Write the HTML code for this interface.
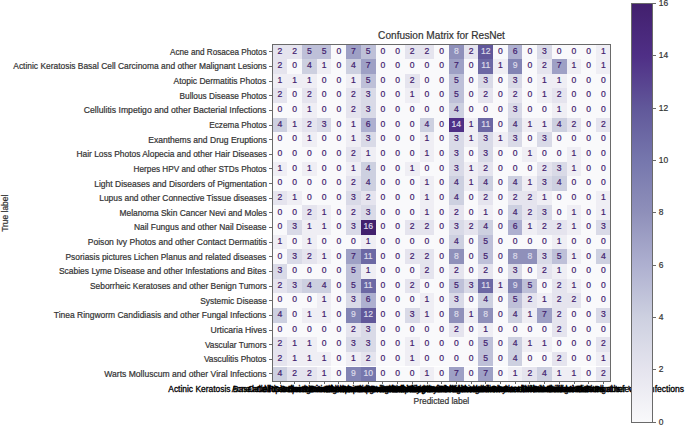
<!DOCTYPE html><html><head><meta charset="utf-8"><style>
html,body{margin:0;padding:0;background:#fff;}
body{width:685px;height:426px;position:relative;overflow:hidden;font-family:"Liberation Sans",sans-serif;color:#333;-webkit-text-stroke:0.2px;}
.a{position:absolute;white-space:nowrap;}
.yl{position:absolute;right:418.40px;font-size:8.44px;line-height:8.44px;white-space:nowrap;}
.xl{position:absolute;width:400px;text-align:center;font-size:8.44px;line-height:8.44px;white-space:nowrap;}
.c{position:absolute;width:14.696px;height:14.639px;}
.n{position:absolute;width:14.696px;text-align:center;font-size:8.6px;line-height:8.6px;}
.tk{position:absolute;background:#6a6a6a;}
</style></head><body>

<div class="a" style="left:341.5px;width:200px;text-align:center;top:31.0px;font-size:10.1px;line-height:10.1px;">Confusion Matrix for ResNet</div>
<div class="c" style="left:272.65px;top:44.45px;background:#e5e4ee"></div><div class="c" style="left:287.35px;top:44.45px;background:#e5e4ee"></div><div class="c" style="left:302.04px;top:44.45px;background:#bec0d8"></div><div class="c" style="left:316.74px;top:44.45px;background:#bec0d8"></div><div class="c" style="left:331.43px;top:44.45px;background:#f9f9fb"></div><div class="c" style="left:346.13px;top:44.45px;background:#9ea0c5"></div><div class="c" style="left:360.82px;top:44.45px;background:#bec0d8"></div><div class="c" style="left:375.52px;top:44.45px;background:#f9f9fb"></div><div class="c" style="left:390.22px;top:44.45px;background:#f9f9fb"></div><div class="c" style="left:404.91px;top:44.45px;background:#e5e4ee"></div><div class="c" style="left:419.61px;top:44.45px;background:#e5e4ee"></div><div class="c" style="left:434.30px;top:44.45px;background:#f9f9fb"></div><div class="c" style="left:449.00px;top:44.45px;background:#8f90ba"></div><div class="c" style="left:463.69px;top:44.45px;background:#e5e4ee"></div><div class="c" style="left:478.39px;top:44.45px;background:#61589a"></div><div class="c" style="left:493.08px;top:44.45px;background:#f9f9fb"></div><div class="c" style="left:507.78px;top:44.45px;background:#aeb0d0"></div><div class="c" style="left:522.48px;top:44.45px;background:#f9f9fb"></div><div class="c" style="left:537.17px;top:44.45px;background:#d9dae7"></div><div class="c" style="left:551.87px;top:44.45px;background:#f9f9fb"></div><div class="c" style="left:566.56px;top:44.45px;background:#f9f9fb"></div><div class="c" style="left:581.26px;top:44.45px;background:#f9f9fb"></div><div class="c" style="left:595.95px;top:44.45px;background:#efeef4"></div><div class="c" style="left:272.65px;top:59.09px;background:#e5e4ee"></div><div class="c" style="left:287.35px;top:59.09px;background:#f9f9fb"></div><div class="c" style="left:302.04px;top:59.09px;background:#cdd0e0"></div><div class="c" style="left:316.74px;top:59.09px;background:#efeef4"></div><div class="c" style="left:331.43px;top:59.09px;background:#f9f9fb"></div><div class="c" style="left:346.13px;top:59.09px;background:#cdd0e0"></div><div class="c" style="left:360.82px;top:59.09px;background:#9ea0c5"></div><div class="c" style="left:375.52px;top:59.09px;background:#f9f9fb"></div><div class="c" style="left:390.22px;top:59.09px;background:#f9f9fb"></div><div class="c" style="left:404.91px;top:59.09px;background:#f9f9fb"></div><div class="c" style="left:419.61px;top:59.09px;background:#f9f9fb"></div><div class="c" style="left:434.30px;top:59.09px;background:#f9f9fb"></div><div class="c" style="left:449.00px;top:59.09px;background:#9ea0c5"></div><div class="c" style="left:463.69px;top:59.09px;background:#f9f9fb"></div><div class="c" style="left:478.39px;top:59.09px;background:#6c68a4"></div><div class="c" style="left:493.08px;top:59.09px;background:#efeef4"></div><div class="c" style="left:507.78px;top:59.09px;background:#8284b4"></div><div class="c" style="left:522.48px;top:59.09px;background:#f9f9fb"></div><div class="c" style="left:537.17px;top:59.09px;background:#e5e4ee"></div><div class="c" style="left:551.87px;top:59.09px;background:#9ea0c5"></div><div class="c" style="left:566.56px;top:59.09px;background:#efeef4"></div><div class="c" style="left:581.26px;top:59.09px;background:#f9f9fb"></div><div class="c" style="left:595.95px;top:59.09px;background:#efeef4"></div><div class="c" style="left:272.65px;top:73.73px;background:#efeef4"></div><div class="c" style="left:287.35px;top:73.73px;background:#efeef4"></div><div class="c" style="left:302.04px;top:73.73px;background:#efeef4"></div><div class="c" style="left:316.74px;top:73.73px;background:#f9f9fb"></div><div class="c" style="left:331.43px;top:73.73px;background:#f9f9fb"></div><div class="c" style="left:346.13px;top:73.73px;background:#efeef4"></div><div class="c" style="left:360.82px;top:73.73px;background:#bec0d8"></div><div class="c" style="left:375.52px;top:73.73px;background:#f9f9fb"></div><div class="c" style="left:390.22px;top:73.73px;background:#f9f9fb"></div><div class="c" style="left:404.91px;top:73.73px;background:#e5e4ee"></div><div class="c" style="left:419.61px;top:73.73px;background:#f9f9fb"></div><div class="c" style="left:434.30px;top:73.73px;background:#f9f9fb"></div><div class="c" style="left:449.00px;top:73.73px;background:#bec0d8"></div><div class="c" style="left:463.69px;top:73.73px;background:#f9f9fb"></div><div class="c" style="left:478.39px;top:73.73px;background:#d9dae7"></div><div class="c" style="left:493.08px;top:73.73px;background:#f9f9fb"></div><div class="c" style="left:507.78px;top:73.73px;background:#d9dae7"></div><div class="c" style="left:522.48px;top:73.73px;background:#f9f9fb"></div><div class="c" style="left:537.17px;top:73.73px;background:#efeef4"></div><div class="c" style="left:551.87px;top:73.73px;background:#efeef4"></div><div class="c" style="left:566.56px;top:73.73px;background:#f9f9fb"></div><div class="c" style="left:581.26px;top:73.73px;background:#f9f9fb"></div><div class="c" style="left:595.95px;top:73.73px;background:#f9f9fb"></div><div class="c" style="left:272.65px;top:88.37px;background:#e5e4ee"></div><div class="c" style="left:287.35px;top:88.37px;background:#f9f9fb"></div><div class="c" style="left:302.04px;top:88.37px;background:#e5e4ee"></div><div class="c" style="left:316.74px;top:88.37px;background:#f9f9fb"></div><div class="c" style="left:331.43px;top:88.37px;background:#f9f9fb"></div><div class="c" style="left:346.13px;top:88.37px;background:#e5e4ee"></div><div class="c" style="left:360.82px;top:88.37px;background:#d9dae7"></div><div class="c" style="left:375.52px;top:88.37px;background:#f9f9fb"></div><div class="c" style="left:390.22px;top:88.37px;background:#f9f9fb"></div><div class="c" style="left:404.91px;top:88.37px;background:#efeef4"></div><div class="c" style="left:419.61px;top:88.37px;background:#f9f9fb"></div><div class="c" style="left:434.30px;top:88.37px;background:#f9f9fb"></div><div class="c" style="left:449.00px;top:88.37px;background:#bec0d8"></div><div class="c" style="left:463.69px;top:88.37px;background:#f9f9fb"></div><div class="c" style="left:478.39px;top:88.37px;background:#e5e4ee"></div><div class="c" style="left:493.08px;top:88.37px;background:#f9f9fb"></div><div class="c" style="left:507.78px;top:88.37px;background:#e5e4ee"></div><div class="c" style="left:522.48px;top:88.37px;background:#f9f9fb"></div><div class="c" style="left:537.17px;top:88.37px;background:#efeef4"></div><div class="c" style="left:551.87px;top:88.37px;background:#e5e4ee"></div><div class="c" style="left:566.56px;top:88.37px;background:#f9f9fb"></div><div class="c" style="left:581.26px;top:88.37px;background:#f9f9fb"></div><div class="c" style="left:595.95px;top:88.37px;background:#f9f9fb"></div><div class="c" style="left:272.65px;top:103.01px;background:#f9f9fb"></div><div class="c" style="left:287.35px;top:103.01px;background:#f9f9fb"></div><div class="c" style="left:302.04px;top:103.01px;background:#efeef4"></div><div class="c" style="left:316.74px;top:103.01px;background:#f9f9fb"></div><div class="c" style="left:331.43px;top:103.01px;background:#f9f9fb"></div><div class="c" style="left:346.13px;top:103.01px;background:#e5e4ee"></div><div class="c" style="left:360.82px;top:103.01px;background:#d9dae7"></div><div class="c" style="left:375.52px;top:103.01px;background:#f9f9fb"></div><div class="c" style="left:390.22px;top:103.01px;background:#f9f9fb"></div><div class="c" style="left:404.91px;top:103.01px;background:#f9f9fb"></div><div class="c" style="left:419.61px;top:103.01px;background:#f9f9fb"></div><div class="c" style="left:434.30px;top:103.01px;background:#f9f9fb"></div><div class="c" style="left:449.00px;top:103.01px;background:#cdd0e0"></div><div class="c" style="left:463.69px;top:103.01px;background:#f9f9fb"></div><div class="c" style="left:478.39px;top:103.01px;background:#f9f9fb"></div><div class="c" style="left:493.08px;top:103.01px;background:#f9f9fb"></div><div class="c" style="left:507.78px;top:103.01px;background:#d9dae7"></div><div class="c" style="left:522.48px;top:103.01px;background:#f9f9fb"></div><div class="c" style="left:537.17px;top:103.01px;background:#f9f9fb"></div><div class="c" style="left:551.87px;top:103.01px;background:#efeef4"></div><div class="c" style="left:566.56px;top:103.01px;background:#f9f9fb"></div><div class="c" style="left:581.26px;top:103.01px;background:#f9f9fb"></div><div class="c" style="left:595.95px;top:103.01px;background:#f9f9fb"></div><div class="c" style="left:272.65px;top:117.65px;background:#cdd0e0"></div><div class="c" style="left:287.35px;top:117.65px;background:#efeef4"></div><div class="c" style="left:302.04px;top:117.65px;background:#e5e4ee"></div><div class="c" style="left:316.74px;top:117.65px;background:#d9dae7"></div><div class="c" style="left:331.43px;top:117.65px;background:#f9f9fb"></div><div class="c" style="left:346.13px;top:117.65px;background:#efeef4"></div><div class="c" style="left:360.82px;top:117.65px;background:#aeb0d0"></div><div class="c" style="left:375.52px;top:117.65px;background:#f9f9fb"></div><div class="c" style="left:390.22px;top:117.65px;background:#f9f9fb"></div><div class="c" style="left:404.91px;top:117.65px;background:#f9f9fb"></div><div class="c" style="left:419.61px;top:117.65px;background:#cdd0e0"></div><div class="c" style="left:434.30px;top:117.65px;background:#f9f9fb"></div><div class="c" style="left:449.00px;top:117.65px;background:#4f2f86"></div><div class="c" style="left:463.69px;top:117.65px;background:#efeef4"></div><div class="c" style="left:478.39px;top:117.65px;background:#6c68a4"></div><div class="c" style="left:493.08px;top:117.65px;background:#f9f9fb"></div><div class="c" style="left:507.78px;top:117.65px;background:#cdd0e0"></div><div class="c" style="left:522.48px;top:117.65px;background:#efeef4"></div><div class="c" style="left:537.17px;top:117.65px;background:#efeef4"></div><div class="c" style="left:551.87px;top:117.65px;background:#cdd0e0"></div><div class="c" style="left:566.56px;top:117.65px;background:#e5e4ee"></div><div class="c" style="left:581.26px;top:117.65px;background:#f9f9fb"></div><div class="c" style="left:595.95px;top:117.65px;background:#e5e4ee"></div><div class="c" style="left:272.65px;top:132.28px;background:#f9f9fb"></div><div class="c" style="left:287.35px;top:132.28px;background:#f9f9fb"></div><div class="c" style="left:302.04px;top:132.28px;background:#efeef4"></div><div class="c" style="left:316.74px;top:132.28px;background:#f9f9fb"></div><div class="c" style="left:331.43px;top:132.28px;background:#f9f9fb"></div><div class="c" style="left:346.13px;top:132.28px;background:#efeef4"></div><div class="c" style="left:360.82px;top:132.28px;background:#d9dae7"></div><div class="c" style="left:375.52px;top:132.28px;background:#f9f9fb"></div><div class="c" style="left:390.22px;top:132.28px;background:#f9f9fb"></div><div class="c" style="left:404.91px;top:132.28px;background:#f9f9fb"></div><div class="c" style="left:419.61px;top:132.28px;background:#efeef4"></div><div class="c" style="left:434.30px;top:132.28px;background:#f9f9fb"></div><div class="c" style="left:449.00px;top:132.28px;background:#d9dae7"></div><div class="c" style="left:463.69px;top:132.28px;background:#efeef4"></div><div class="c" style="left:478.39px;top:132.28px;background:#d9dae7"></div><div class="c" style="left:493.08px;top:132.28px;background:#efeef4"></div><div class="c" style="left:507.78px;top:132.28px;background:#d9dae7"></div><div class="c" style="left:522.48px;top:132.28px;background:#f9f9fb"></div><div class="c" style="left:537.17px;top:132.28px;background:#d9dae7"></div><div class="c" style="left:551.87px;top:132.28px;background:#f9f9fb"></div><div class="c" style="left:566.56px;top:132.28px;background:#f9f9fb"></div><div class="c" style="left:581.26px;top:132.28px;background:#f9f9fb"></div><div class="c" style="left:595.95px;top:132.28px;background:#f9f9fb"></div><div class="c" style="left:272.65px;top:146.92px;background:#f9f9fb"></div><div class="c" style="left:287.35px;top:146.92px;background:#f9f9fb"></div><div class="c" style="left:302.04px;top:146.92px;background:#f9f9fb"></div><div class="c" style="left:316.74px;top:146.92px;background:#f9f9fb"></div><div class="c" style="left:331.43px;top:146.92px;background:#f9f9fb"></div><div class="c" style="left:346.13px;top:146.92px;background:#e5e4ee"></div><div class="c" style="left:360.82px;top:146.92px;background:#efeef4"></div><div class="c" style="left:375.52px;top:146.92px;background:#f9f9fb"></div><div class="c" style="left:390.22px;top:146.92px;background:#f9f9fb"></div><div class="c" style="left:404.91px;top:146.92px;background:#f9f9fb"></div><div class="c" style="left:419.61px;top:146.92px;background:#efeef4"></div><div class="c" style="left:434.30px;top:146.92px;background:#f9f9fb"></div><div class="c" style="left:449.00px;top:146.92px;background:#d9dae7"></div><div class="c" style="left:463.69px;top:146.92px;background:#f9f9fb"></div><div class="c" style="left:478.39px;top:146.92px;background:#d9dae7"></div><div class="c" style="left:493.08px;top:146.92px;background:#f9f9fb"></div><div class="c" style="left:507.78px;top:146.92px;background:#f9f9fb"></div><div class="c" style="left:522.48px;top:146.92px;background:#efeef4"></div><div class="c" style="left:537.17px;top:146.92px;background:#f9f9fb"></div><div class="c" style="left:551.87px;top:146.92px;background:#f9f9fb"></div><div class="c" style="left:566.56px;top:146.92px;background:#efeef4"></div><div class="c" style="left:581.26px;top:146.92px;background:#f9f9fb"></div><div class="c" style="left:595.95px;top:146.92px;background:#f9f9fb"></div><div class="c" style="left:272.65px;top:161.56px;background:#efeef4"></div><div class="c" style="left:287.35px;top:161.56px;background:#f9f9fb"></div><div class="c" style="left:302.04px;top:161.56px;background:#efeef4"></div><div class="c" style="left:316.74px;top:161.56px;background:#f9f9fb"></div><div class="c" style="left:331.43px;top:161.56px;background:#f9f9fb"></div><div class="c" style="left:346.13px;top:161.56px;background:#efeef4"></div><div class="c" style="left:360.82px;top:161.56px;background:#cdd0e0"></div><div class="c" style="left:375.52px;top:161.56px;background:#f9f9fb"></div><div class="c" style="left:390.22px;top:161.56px;background:#f9f9fb"></div><div class="c" style="left:404.91px;top:161.56px;background:#efeef4"></div><div class="c" style="left:419.61px;top:161.56px;background:#f9f9fb"></div><div class="c" style="left:434.30px;top:161.56px;background:#f9f9fb"></div><div class="c" style="left:449.00px;top:161.56px;background:#d9dae7"></div><div class="c" style="left:463.69px;top:161.56px;background:#efeef4"></div><div class="c" style="left:478.39px;top:161.56px;background:#e5e4ee"></div><div class="c" style="left:493.08px;top:161.56px;background:#f9f9fb"></div><div class="c" style="left:507.78px;top:161.56px;background:#f9f9fb"></div><div class="c" style="left:522.48px;top:161.56px;background:#f9f9fb"></div><div class="c" style="left:537.17px;top:161.56px;background:#e5e4ee"></div><div class="c" style="left:551.87px;top:161.56px;background:#d9dae7"></div><div class="c" style="left:566.56px;top:161.56px;background:#efeef4"></div><div class="c" style="left:581.26px;top:161.56px;background:#f9f9fb"></div><div class="c" style="left:595.95px;top:161.56px;background:#f9f9fb"></div><div class="c" style="left:272.65px;top:176.20px;background:#f9f9fb"></div><div class="c" style="left:287.35px;top:176.20px;background:#f9f9fb"></div><div class="c" style="left:302.04px;top:176.20px;background:#f9f9fb"></div><div class="c" style="left:316.74px;top:176.20px;background:#f9f9fb"></div><div class="c" style="left:331.43px;top:176.20px;background:#f9f9fb"></div><div class="c" style="left:346.13px;top:176.20px;background:#e5e4ee"></div><div class="c" style="left:360.82px;top:176.20px;background:#cdd0e0"></div><div class="c" style="left:375.52px;top:176.20px;background:#f9f9fb"></div><div class="c" style="left:390.22px;top:176.20px;background:#f9f9fb"></div><div class="c" style="left:404.91px;top:176.20px;background:#f9f9fb"></div><div class="c" style="left:419.61px;top:176.20px;background:#efeef4"></div><div class="c" style="left:434.30px;top:176.20px;background:#f9f9fb"></div><div class="c" style="left:449.00px;top:176.20px;background:#cdd0e0"></div><div class="c" style="left:463.69px;top:176.20px;background:#efeef4"></div><div class="c" style="left:478.39px;top:176.20px;background:#cdd0e0"></div><div class="c" style="left:493.08px;top:176.20px;background:#f9f9fb"></div><div class="c" style="left:507.78px;top:176.20px;background:#cdd0e0"></div><div class="c" style="left:522.48px;top:176.20px;background:#efeef4"></div><div class="c" style="left:537.17px;top:176.20px;background:#d9dae7"></div><div class="c" style="left:551.87px;top:176.20px;background:#cdd0e0"></div><div class="c" style="left:566.56px;top:176.20px;background:#f9f9fb"></div><div class="c" style="left:581.26px;top:176.20px;background:#f9f9fb"></div><div class="c" style="left:595.95px;top:176.20px;background:#f9f9fb"></div><div class="c" style="left:272.65px;top:190.84px;background:#e5e4ee"></div><div class="c" style="left:287.35px;top:190.84px;background:#efeef4"></div><div class="c" style="left:302.04px;top:190.84px;background:#f9f9fb"></div><div class="c" style="left:316.74px;top:190.84px;background:#f9f9fb"></div><div class="c" style="left:331.43px;top:190.84px;background:#f9f9fb"></div><div class="c" style="left:346.13px;top:190.84px;background:#d9dae7"></div><div class="c" style="left:360.82px;top:190.84px;background:#e5e4ee"></div><div class="c" style="left:375.52px;top:190.84px;background:#f9f9fb"></div><div class="c" style="left:390.22px;top:190.84px;background:#f9f9fb"></div><div class="c" style="left:404.91px;top:190.84px;background:#f9f9fb"></div><div class="c" style="left:419.61px;top:190.84px;background:#efeef4"></div><div class="c" style="left:434.30px;top:190.84px;background:#f9f9fb"></div><div class="c" style="left:449.00px;top:190.84px;background:#cdd0e0"></div><div class="c" style="left:463.69px;top:190.84px;background:#f9f9fb"></div><div class="c" style="left:478.39px;top:190.84px;background:#e5e4ee"></div><div class="c" style="left:493.08px;top:190.84px;background:#f9f9fb"></div><div class="c" style="left:507.78px;top:190.84px;background:#e5e4ee"></div><div class="c" style="left:522.48px;top:190.84px;background:#e5e4ee"></div><div class="c" style="left:537.17px;top:190.84px;background:#efeef4"></div><div class="c" style="left:551.87px;top:190.84px;background:#f9f9fb"></div><div class="c" style="left:566.56px;top:190.84px;background:#f9f9fb"></div><div class="c" style="left:581.26px;top:190.84px;background:#f9f9fb"></div><div class="c" style="left:595.95px;top:190.84px;background:#efeef4"></div><div class="c" style="left:272.65px;top:205.48px;background:#f9f9fb"></div><div class="c" style="left:287.35px;top:205.48px;background:#f9f9fb"></div><div class="c" style="left:302.04px;top:205.48px;background:#e5e4ee"></div><div class="c" style="left:316.74px;top:205.48px;background:#efeef4"></div><div class="c" style="left:331.43px;top:205.48px;background:#f9f9fb"></div><div class="c" style="left:346.13px;top:205.48px;background:#e5e4ee"></div><div class="c" style="left:360.82px;top:205.48px;background:#d9dae7"></div><div class="c" style="left:375.52px;top:205.48px;background:#f9f9fb"></div><div class="c" style="left:390.22px;top:205.48px;background:#f9f9fb"></div><div class="c" style="left:404.91px;top:205.48px;background:#f9f9fb"></div><div class="c" style="left:419.61px;top:205.48px;background:#efeef4"></div><div class="c" style="left:434.30px;top:205.48px;background:#f9f9fb"></div><div class="c" style="left:449.00px;top:205.48px;background:#e5e4ee"></div><div class="c" style="left:463.69px;top:205.48px;background:#f9f9fb"></div><div class="c" style="left:478.39px;top:205.48px;background:#efeef4"></div><div class="c" style="left:493.08px;top:205.48px;background:#f9f9fb"></div><div class="c" style="left:507.78px;top:205.48px;background:#cdd0e0"></div><div class="c" style="left:522.48px;top:205.48px;background:#e5e4ee"></div><div class="c" style="left:537.17px;top:205.48px;background:#d9dae7"></div><div class="c" style="left:551.87px;top:205.48px;background:#f9f9fb"></div><div class="c" style="left:566.56px;top:205.48px;background:#efeef4"></div><div class="c" style="left:581.26px;top:205.48px;background:#f9f9fb"></div><div class="c" style="left:595.95px;top:205.48px;background:#efeef4"></div><div class="c" style="left:272.65px;top:220.12px;background:#f9f9fb"></div><div class="c" style="left:287.35px;top:220.12px;background:#d9dae7"></div><div class="c" style="left:302.04px;top:220.12px;background:#efeef4"></div><div class="c" style="left:316.74px;top:220.12px;background:#efeef4"></div><div class="c" style="left:331.43px;top:220.12px;background:#f9f9fb"></div><div class="c" style="left:346.13px;top:220.12px;background:#d9dae7"></div><div class="c" style="left:360.82px;top:220.12px;background:#42206e"></div><div class="c" style="left:375.52px;top:220.12px;background:#f9f9fb"></div><div class="c" style="left:390.22px;top:220.12px;background:#f9f9fb"></div><div class="c" style="left:404.91px;top:220.12px;background:#e5e4ee"></div><div class="c" style="left:419.61px;top:220.12px;background:#e5e4ee"></div><div class="c" style="left:434.30px;top:220.12px;background:#f9f9fb"></div><div class="c" style="left:449.00px;top:220.12px;background:#d9dae7"></div><div class="c" style="left:463.69px;top:220.12px;background:#e5e4ee"></div><div class="c" style="left:478.39px;top:220.12px;background:#cdd0e0"></div><div class="c" style="left:493.08px;top:220.12px;background:#f9f9fb"></div><div class="c" style="left:507.78px;top:220.12px;background:#aeb0d0"></div><div class="c" style="left:522.48px;top:220.12px;background:#efeef4"></div><div class="c" style="left:537.17px;top:220.12px;background:#e5e4ee"></div><div class="c" style="left:551.87px;top:220.12px;background:#e5e4ee"></div><div class="c" style="left:566.56px;top:220.12px;background:#efeef4"></div><div class="c" style="left:581.26px;top:220.12px;background:#f9f9fb"></div><div class="c" style="left:595.95px;top:220.12px;background:#d9dae7"></div><div class="c" style="left:272.65px;top:234.76px;background:#efeef4"></div><div class="c" style="left:287.35px;top:234.76px;background:#f9f9fb"></div><div class="c" style="left:302.04px;top:234.76px;background:#efeef4"></div><div class="c" style="left:316.74px;top:234.76px;background:#f9f9fb"></div><div class="c" style="left:331.43px;top:234.76px;background:#f9f9fb"></div><div class="c" style="left:346.13px;top:234.76px;background:#f9f9fb"></div><div class="c" style="left:360.82px;top:234.76px;background:#efeef4"></div><div class="c" style="left:375.52px;top:234.76px;background:#f9f9fb"></div><div class="c" style="left:390.22px;top:234.76px;background:#f9f9fb"></div><div class="c" style="left:404.91px;top:234.76px;background:#f9f9fb"></div><div class="c" style="left:419.61px;top:234.76px;background:#f9f9fb"></div><div class="c" style="left:434.30px;top:234.76px;background:#f9f9fb"></div><div class="c" style="left:449.00px;top:234.76px;background:#cdd0e0"></div><div class="c" style="left:463.69px;top:234.76px;background:#f9f9fb"></div><div class="c" style="left:478.39px;top:234.76px;background:#bec0d8"></div><div class="c" style="left:493.08px;top:234.76px;background:#f9f9fb"></div><div class="c" style="left:507.78px;top:234.76px;background:#f9f9fb"></div><div class="c" style="left:522.48px;top:234.76px;background:#f9f9fb"></div><div class="c" style="left:537.17px;top:234.76px;background:#f9f9fb"></div><div class="c" style="left:551.87px;top:234.76px;background:#efeef4"></div><div class="c" style="left:566.56px;top:234.76px;background:#f9f9fb"></div><div class="c" style="left:581.26px;top:234.76px;background:#f9f9fb"></div><div class="c" style="left:595.95px;top:234.76px;background:#f9f9fb"></div><div class="c" style="left:272.65px;top:249.40px;background:#f9f9fb"></div><div class="c" style="left:287.35px;top:249.40px;background:#d9dae7"></div><div class="c" style="left:302.04px;top:249.40px;background:#e5e4ee"></div><div class="c" style="left:316.74px;top:249.40px;background:#efeef4"></div><div class="c" style="left:331.43px;top:249.40px;background:#f9f9fb"></div><div class="c" style="left:346.13px;top:249.40px;background:#9ea0c5"></div><div class="c" style="left:360.82px;top:249.40px;background:#6c68a4"></div><div class="c" style="left:375.52px;top:249.40px;background:#f9f9fb"></div><div class="c" style="left:390.22px;top:249.40px;background:#f9f9fb"></div><div class="c" style="left:404.91px;top:249.40px;background:#e5e4ee"></div><div class="c" style="left:419.61px;top:249.40px;background:#e5e4ee"></div><div class="c" style="left:434.30px;top:249.40px;background:#f9f9fb"></div><div class="c" style="left:449.00px;top:249.40px;background:#8f90ba"></div><div class="c" style="left:463.69px;top:249.40px;background:#f9f9fb"></div><div class="c" style="left:478.39px;top:249.40px;background:#bec0d8"></div><div class="c" style="left:493.08px;top:249.40px;background:#f9f9fb"></div><div class="c" style="left:507.78px;top:249.40px;background:#8f90ba"></div><div class="c" style="left:522.48px;top:249.40px;background:#8f90ba"></div><div class="c" style="left:537.17px;top:249.40px;background:#d9dae7"></div><div class="c" style="left:551.87px;top:249.40px;background:#bec0d8"></div><div class="c" style="left:566.56px;top:249.40px;background:#efeef4"></div><div class="c" style="left:581.26px;top:249.40px;background:#f9f9fb"></div><div class="c" style="left:595.95px;top:249.40px;background:#cdd0e0"></div><div class="c" style="left:272.65px;top:264.04px;background:#d9dae7"></div><div class="c" style="left:287.35px;top:264.04px;background:#f9f9fb"></div><div class="c" style="left:302.04px;top:264.04px;background:#f9f9fb"></div><div class="c" style="left:316.74px;top:264.04px;background:#f9f9fb"></div><div class="c" style="left:331.43px;top:264.04px;background:#f9f9fb"></div><div class="c" style="left:346.13px;top:264.04px;background:#bec0d8"></div><div class="c" style="left:360.82px;top:264.04px;background:#efeef4"></div><div class="c" style="left:375.52px;top:264.04px;background:#f9f9fb"></div><div class="c" style="left:390.22px;top:264.04px;background:#f9f9fb"></div><div class="c" style="left:404.91px;top:264.04px;background:#f9f9fb"></div><div class="c" style="left:419.61px;top:264.04px;background:#e5e4ee"></div><div class="c" style="left:434.30px;top:264.04px;background:#f9f9fb"></div><div class="c" style="left:449.00px;top:264.04px;background:#e5e4ee"></div><div class="c" style="left:463.69px;top:264.04px;background:#f9f9fb"></div><div class="c" style="left:478.39px;top:264.04px;background:#e5e4ee"></div><div class="c" style="left:493.08px;top:264.04px;background:#f9f9fb"></div><div class="c" style="left:507.78px;top:264.04px;background:#d9dae7"></div><div class="c" style="left:522.48px;top:264.04px;background:#f9f9fb"></div><div class="c" style="left:537.17px;top:264.04px;background:#e5e4ee"></div><div class="c" style="left:551.87px;top:264.04px;background:#efeef4"></div><div class="c" style="left:566.56px;top:264.04px;background:#f9f9fb"></div><div class="c" style="left:581.26px;top:264.04px;background:#f9f9fb"></div><div class="c" style="left:595.95px;top:264.04px;background:#f9f9fb"></div><div class="c" style="left:272.65px;top:278.68px;background:#e5e4ee"></div><div class="c" style="left:287.35px;top:278.68px;background:#d9dae7"></div><div class="c" style="left:302.04px;top:278.68px;background:#cdd0e0"></div><div class="c" style="left:316.74px;top:278.68px;background:#cdd0e0"></div><div class="c" style="left:331.43px;top:278.68px;background:#f9f9fb"></div><div class="c" style="left:346.13px;top:278.68px;background:#bec0d8"></div><div class="c" style="left:360.82px;top:278.68px;background:#6c68a4"></div><div class="c" style="left:375.52px;top:278.68px;background:#f9f9fb"></div><div class="c" style="left:390.22px;top:278.68px;background:#f9f9fb"></div><div class="c" style="left:404.91px;top:278.68px;background:#e5e4ee"></div><div class="c" style="left:419.61px;top:278.68px;background:#f9f9fb"></div><div class="c" style="left:434.30px;top:278.68px;background:#f9f9fb"></div><div class="c" style="left:449.00px;top:278.68px;background:#bec0d8"></div><div class="c" style="left:463.69px;top:278.68px;background:#d9dae7"></div><div class="c" style="left:478.39px;top:278.68px;background:#6c68a4"></div><div class="c" style="left:493.08px;top:278.68px;background:#efeef4"></div><div class="c" style="left:507.78px;top:278.68px;background:#8284b4"></div><div class="c" style="left:522.48px;top:278.68px;background:#bec0d8"></div><div class="c" style="left:537.17px;top:278.68px;background:#f9f9fb"></div><div class="c" style="left:551.87px;top:278.68px;background:#e5e4ee"></div><div class="c" style="left:566.56px;top:278.68px;background:#efeef4"></div><div class="c" style="left:581.26px;top:278.68px;background:#f9f9fb"></div><div class="c" style="left:595.95px;top:278.68px;background:#f9f9fb"></div><div class="c" style="left:272.65px;top:293.32px;background:#f9f9fb"></div><div class="c" style="left:287.35px;top:293.32px;background:#f9f9fb"></div><div class="c" style="left:302.04px;top:293.32px;background:#f9f9fb"></div><div class="c" style="left:316.74px;top:293.32px;background:#efeef4"></div><div class="c" style="left:331.43px;top:293.32px;background:#f9f9fb"></div><div class="c" style="left:346.13px;top:293.32px;background:#d9dae7"></div><div class="c" style="left:360.82px;top:293.32px;background:#aeb0d0"></div><div class="c" style="left:375.52px;top:293.32px;background:#f9f9fb"></div><div class="c" style="left:390.22px;top:293.32px;background:#f9f9fb"></div><div class="c" style="left:404.91px;top:293.32px;background:#f9f9fb"></div><div class="c" style="left:419.61px;top:293.32px;background:#efeef4"></div><div class="c" style="left:434.30px;top:293.32px;background:#f9f9fb"></div><div class="c" style="left:449.00px;top:293.32px;background:#d9dae7"></div><div class="c" style="left:463.69px;top:293.32px;background:#f9f9fb"></div><div class="c" style="left:478.39px;top:293.32px;background:#cdd0e0"></div><div class="c" style="left:493.08px;top:293.32px;background:#f9f9fb"></div><div class="c" style="left:507.78px;top:293.32px;background:#bec0d8"></div><div class="c" style="left:522.48px;top:293.32px;background:#e5e4ee"></div><div class="c" style="left:537.17px;top:293.32px;background:#efeef4"></div><div class="c" style="left:551.87px;top:293.32px;background:#e5e4ee"></div><div class="c" style="left:566.56px;top:293.32px;background:#e5e4ee"></div><div class="c" style="left:581.26px;top:293.32px;background:#f9f9fb"></div><div class="c" style="left:595.95px;top:293.32px;background:#f9f9fb"></div><div class="c" style="left:272.65px;top:307.95px;background:#cdd0e0"></div><div class="c" style="left:287.35px;top:307.95px;background:#f9f9fb"></div><div class="c" style="left:302.04px;top:307.95px;background:#efeef4"></div><div class="c" style="left:316.74px;top:307.95px;background:#efeef4"></div><div class="c" style="left:331.43px;top:307.95px;background:#f9f9fb"></div><div class="c" style="left:346.13px;top:307.95px;background:#8284b4"></div><div class="c" style="left:360.82px;top:307.95px;background:#61589a"></div><div class="c" style="left:375.52px;top:307.95px;background:#f9f9fb"></div><div class="c" style="left:390.22px;top:307.95px;background:#f9f9fb"></div><div class="c" style="left:404.91px;top:307.95px;background:#d9dae7"></div><div class="c" style="left:419.61px;top:307.95px;background:#efeef4"></div><div class="c" style="left:434.30px;top:307.95px;background:#f9f9fb"></div><div class="c" style="left:449.00px;top:307.95px;background:#8f90ba"></div><div class="c" style="left:463.69px;top:307.95px;background:#efeef4"></div><div class="c" style="left:478.39px;top:307.95px;background:#8f90ba"></div><div class="c" style="left:493.08px;top:307.95px;background:#f9f9fb"></div><div class="c" style="left:507.78px;top:307.95px;background:#cdd0e0"></div><div class="c" style="left:522.48px;top:307.95px;background:#efeef4"></div><div class="c" style="left:537.17px;top:307.95px;background:#9ea0c5"></div><div class="c" style="left:551.87px;top:307.95px;background:#e5e4ee"></div><div class="c" style="left:566.56px;top:307.95px;background:#f9f9fb"></div><div class="c" style="left:581.26px;top:307.95px;background:#f9f9fb"></div><div class="c" style="left:595.95px;top:307.95px;background:#d9dae7"></div><div class="c" style="left:272.65px;top:322.59px;background:#f9f9fb"></div><div class="c" style="left:287.35px;top:322.59px;background:#f9f9fb"></div><div class="c" style="left:302.04px;top:322.59px;background:#f9f9fb"></div><div class="c" style="left:316.74px;top:322.59px;background:#f9f9fb"></div><div class="c" style="left:331.43px;top:322.59px;background:#f9f9fb"></div><div class="c" style="left:346.13px;top:322.59px;background:#e5e4ee"></div><div class="c" style="left:360.82px;top:322.59px;background:#d9dae7"></div><div class="c" style="left:375.52px;top:322.59px;background:#f9f9fb"></div><div class="c" style="left:390.22px;top:322.59px;background:#f9f9fb"></div><div class="c" style="left:404.91px;top:322.59px;background:#f9f9fb"></div><div class="c" style="left:419.61px;top:322.59px;background:#f9f9fb"></div><div class="c" style="left:434.30px;top:322.59px;background:#f9f9fb"></div><div class="c" style="left:449.00px;top:322.59px;background:#e5e4ee"></div><div class="c" style="left:463.69px;top:322.59px;background:#f9f9fb"></div><div class="c" style="left:478.39px;top:322.59px;background:#efeef4"></div><div class="c" style="left:493.08px;top:322.59px;background:#f9f9fb"></div><div class="c" style="left:507.78px;top:322.59px;background:#f9f9fb"></div><div class="c" style="left:522.48px;top:322.59px;background:#f9f9fb"></div><div class="c" style="left:537.17px;top:322.59px;background:#f9f9fb"></div><div class="c" style="left:551.87px;top:322.59px;background:#e5e4ee"></div><div class="c" style="left:566.56px;top:322.59px;background:#f9f9fb"></div><div class="c" style="left:581.26px;top:322.59px;background:#f9f9fb"></div><div class="c" style="left:595.95px;top:322.59px;background:#f9f9fb"></div><div class="c" style="left:272.65px;top:337.23px;background:#e5e4ee"></div><div class="c" style="left:287.35px;top:337.23px;background:#efeef4"></div><div class="c" style="left:302.04px;top:337.23px;background:#efeef4"></div><div class="c" style="left:316.74px;top:337.23px;background:#f9f9fb"></div><div class="c" style="left:331.43px;top:337.23px;background:#f9f9fb"></div><div class="c" style="left:346.13px;top:337.23px;background:#d9dae7"></div><div class="c" style="left:360.82px;top:337.23px;background:#d9dae7"></div><div class="c" style="left:375.52px;top:337.23px;background:#f9f9fb"></div><div class="c" style="left:390.22px;top:337.23px;background:#f9f9fb"></div><div class="c" style="left:404.91px;top:337.23px;background:#efeef4"></div><div class="c" style="left:419.61px;top:337.23px;background:#f9f9fb"></div><div class="c" style="left:434.30px;top:337.23px;background:#f9f9fb"></div><div class="c" style="left:449.00px;top:337.23px;background:#f9f9fb"></div><div class="c" style="left:463.69px;top:337.23px;background:#f9f9fb"></div><div class="c" style="left:478.39px;top:337.23px;background:#bec0d8"></div><div class="c" style="left:493.08px;top:337.23px;background:#f9f9fb"></div><div class="c" style="left:507.78px;top:337.23px;background:#cdd0e0"></div><div class="c" style="left:522.48px;top:337.23px;background:#efeef4"></div><div class="c" style="left:537.17px;top:337.23px;background:#efeef4"></div><div class="c" style="left:551.87px;top:337.23px;background:#f9f9fb"></div><div class="c" style="left:566.56px;top:337.23px;background:#f9f9fb"></div><div class="c" style="left:581.26px;top:337.23px;background:#f9f9fb"></div><div class="c" style="left:595.95px;top:337.23px;background:#e5e4ee"></div><div class="c" style="left:272.65px;top:351.87px;background:#e5e4ee"></div><div class="c" style="left:287.35px;top:351.87px;background:#efeef4"></div><div class="c" style="left:302.04px;top:351.87px;background:#efeef4"></div><div class="c" style="left:316.74px;top:351.87px;background:#efeef4"></div><div class="c" style="left:331.43px;top:351.87px;background:#f9f9fb"></div><div class="c" style="left:346.13px;top:351.87px;background:#efeef4"></div><div class="c" style="left:360.82px;top:351.87px;background:#e5e4ee"></div><div class="c" style="left:375.52px;top:351.87px;background:#f9f9fb"></div><div class="c" style="left:390.22px;top:351.87px;background:#f9f9fb"></div><div class="c" style="left:404.91px;top:351.87px;background:#efeef4"></div><div class="c" style="left:419.61px;top:351.87px;background:#f9f9fb"></div><div class="c" style="left:434.30px;top:351.87px;background:#f9f9fb"></div><div class="c" style="left:449.00px;top:351.87px;background:#f9f9fb"></div><div class="c" style="left:463.69px;top:351.87px;background:#f9f9fb"></div><div class="c" style="left:478.39px;top:351.87px;background:#bec0d8"></div><div class="c" style="left:493.08px;top:351.87px;background:#f9f9fb"></div><div class="c" style="left:507.78px;top:351.87px;background:#cdd0e0"></div><div class="c" style="left:522.48px;top:351.87px;background:#f9f9fb"></div><div class="c" style="left:537.17px;top:351.87px;background:#f9f9fb"></div><div class="c" style="left:551.87px;top:351.87px;background:#e5e4ee"></div><div class="c" style="left:566.56px;top:351.87px;background:#f9f9fb"></div><div class="c" style="left:581.26px;top:351.87px;background:#f9f9fb"></div><div class="c" style="left:595.95px;top:351.87px;background:#efeef4"></div><div class="c" style="left:272.65px;top:366.51px;background:#cdd0e0"></div><div class="c" style="left:287.35px;top:366.51px;background:#e5e4ee"></div><div class="c" style="left:302.04px;top:366.51px;background:#e5e4ee"></div><div class="c" style="left:316.74px;top:366.51px;background:#efeef4"></div><div class="c" style="left:331.43px;top:366.51px;background:#f9f9fb"></div><div class="c" style="left:346.13px;top:366.51px;background:#8284b4"></div><div class="c" style="left:360.82px;top:366.51px;background:#7677ad"></div><div class="c" style="left:375.52px;top:366.51px;background:#f9f9fb"></div><div class="c" style="left:390.22px;top:366.51px;background:#f9f9fb"></div><div class="c" style="left:404.91px;top:366.51px;background:#f9f9fb"></div><div class="c" style="left:419.61px;top:366.51px;background:#efeef4"></div><div class="c" style="left:434.30px;top:366.51px;background:#f9f9fb"></div><div class="c" style="left:449.00px;top:366.51px;background:#9ea0c5"></div><div class="c" style="left:463.69px;top:366.51px;background:#f9f9fb"></div><div class="c" style="left:478.39px;top:366.51px;background:#9ea0c5"></div><div class="c" style="left:493.08px;top:366.51px;background:#f9f9fb"></div><div class="c" style="left:507.78px;top:366.51px;background:#efeef4"></div><div class="c" style="left:522.48px;top:366.51px;background:#e5e4ee"></div><div class="c" style="left:537.17px;top:366.51px;background:#cdd0e0"></div><div class="c" style="left:551.87px;top:366.51px;background:#efeef4"></div><div class="c" style="left:566.56px;top:366.51px;background:#efeef4"></div><div class="c" style="left:581.26px;top:366.51px;background:#f9f9fb"></div><div class="c" style="left:595.95px;top:366.51px;background:#e5e4ee"></div>
<div class="n" style="left:272.65px;top:46.57px;color:#42206e">2</div><div class="n" style="left:287.35px;top:46.57px;color:#42206e">2</div><div class="n" style="left:302.04px;top:46.57px;color:#42206e">5</div><div class="n" style="left:316.74px;top:46.57px;color:#42206e">5</div><div class="n" style="left:331.43px;top:46.57px;color:#42206e">0</div><div class="n" style="left:346.13px;top:46.57px;color:#42206e">7</div><div class="n" style="left:360.82px;top:46.57px;color:#42206e">5</div><div class="n" style="left:375.52px;top:46.57px;color:#42206e">0</div><div class="n" style="left:390.22px;top:46.57px;color:#42206e">0</div><div class="n" style="left:404.91px;top:46.57px;color:#42206e">2</div><div class="n" style="left:419.61px;top:46.57px;color:#42206e">2</div><div class="n" style="left:434.30px;top:46.57px;color:#42206e">0</div><div class="n" style="left:449.00px;top:46.57px;color:#dcdbe9">8</div><div class="n" style="left:463.69px;top:46.57px;color:#42206e">2</div><div class="n" style="left:478.39px;top:46.57px;color:#dcdbe9">12</div><div class="n" style="left:493.08px;top:46.57px;color:#42206e">0</div><div class="n" style="left:507.78px;top:46.57px;color:#42206e">6</div><div class="n" style="left:522.48px;top:46.57px;color:#42206e">0</div><div class="n" style="left:537.17px;top:46.57px;color:#42206e">3</div><div class="n" style="left:551.87px;top:46.57px;color:#42206e">0</div><div class="n" style="left:566.56px;top:46.57px;color:#42206e">0</div><div class="n" style="left:581.26px;top:46.57px;color:#42206e">0</div><div class="n" style="left:595.95px;top:46.57px;color:#42206e">1</div><div class="n" style="left:272.65px;top:61.21px;color:#42206e">2</div><div class="n" style="left:287.35px;top:61.21px;color:#42206e">0</div><div class="n" style="left:302.04px;top:61.21px;color:#42206e">4</div><div class="n" style="left:316.74px;top:61.21px;color:#42206e">1</div><div class="n" style="left:331.43px;top:61.21px;color:#42206e">0</div><div class="n" style="left:346.13px;top:61.21px;color:#42206e">4</div><div class="n" style="left:360.82px;top:61.21px;color:#42206e">7</div><div class="n" style="left:375.52px;top:61.21px;color:#42206e">0</div><div class="n" style="left:390.22px;top:61.21px;color:#42206e">0</div><div class="n" style="left:404.91px;top:61.21px;color:#42206e">0</div><div class="n" style="left:419.61px;top:61.21px;color:#42206e">0</div><div class="n" style="left:434.30px;top:61.21px;color:#42206e">0</div><div class="n" style="left:449.00px;top:61.21px;color:#42206e">7</div><div class="n" style="left:463.69px;top:61.21px;color:#42206e">0</div><div class="n" style="left:478.39px;top:61.21px;color:#dcdbe9">11</div><div class="n" style="left:493.08px;top:61.21px;color:#42206e">1</div><div class="n" style="left:507.78px;top:61.21px;color:#dcdbe9">9</div><div class="n" style="left:522.48px;top:61.21px;color:#42206e">0</div><div class="n" style="left:537.17px;top:61.21px;color:#42206e">2</div><div class="n" style="left:551.87px;top:61.21px;color:#42206e">7</div><div class="n" style="left:566.56px;top:61.21px;color:#42206e">1</div><div class="n" style="left:581.26px;top:61.21px;color:#42206e">0</div><div class="n" style="left:595.95px;top:61.21px;color:#42206e">1</div><div class="n" style="left:272.65px;top:75.85px;color:#42206e">1</div><div class="n" style="left:287.35px;top:75.85px;color:#42206e">1</div><div class="n" style="left:302.04px;top:75.85px;color:#42206e">1</div><div class="n" style="left:316.74px;top:75.85px;color:#42206e">0</div><div class="n" style="left:331.43px;top:75.85px;color:#42206e">0</div><div class="n" style="left:346.13px;top:75.85px;color:#42206e">1</div><div class="n" style="left:360.82px;top:75.85px;color:#42206e">5</div><div class="n" style="left:375.52px;top:75.85px;color:#42206e">0</div><div class="n" style="left:390.22px;top:75.85px;color:#42206e">0</div><div class="n" style="left:404.91px;top:75.85px;color:#42206e">2</div><div class="n" style="left:419.61px;top:75.85px;color:#42206e">0</div><div class="n" style="left:434.30px;top:75.85px;color:#42206e">0</div><div class="n" style="left:449.00px;top:75.85px;color:#42206e">5</div><div class="n" style="left:463.69px;top:75.85px;color:#42206e">0</div><div class="n" style="left:478.39px;top:75.85px;color:#42206e">3</div><div class="n" style="left:493.08px;top:75.85px;color:#42206e">0</div><div class="n" style="left:507.78px;top:75.85px;color:#42206e">3</div><div class="n" style="left:522.48px;top:75.85px;color:#42206e">0</div><div class="n" style="left:537.17px;top:75.85px;color:#42206e">1</div><div class="n" style="left:551.87px;top:75.85px;color:#42206e">1</div><div class="n" style="left:566.56px;top:75.85px;color:#42206e">0</div><div class="n" style="left:581.26px;top:75.85px;color:#42206e">0</div><div class="n" style="left:595.95px;top:75.85px;color:#42206e">0</div><div class="n" style="left:272.65px;top:90.49px;color:#42206e">2</div><div class="n" style="left:287.35px;top:90.49px;color:#42206e">0</div><div class="n" style="left:302.04px;top:90.49px;color:#42206e">2</div><div class="n" style="left:316.74px;top:90.49px;color:#42206e">0</div><div class="n" style="left:331.43px;top:90.49px;color:#42206e">0</div><div class="n" style="left:346.13px;top:90.49px;color:#42206e">2</div><div class="n" style="left:360.82px;top:90.49px;color:#42206e">3</div><div class="n" style="left:375.52px;top:90.49px;color:#42206e">0</div><div class="n" style="left:390.22px;top:90.49px;color:#42206e">0</div><div class="n" style="left:404.91px;top:90.49px;color:#42206e">1</div><div class="n" style="left:419.61px;top:90.49px;color:#42206e">0</div><div class="n" style="left:434.30px;top:90.49px;color:#42206e">0</div><div class="n" style="left:449.00px;top:90.49px;color:#42206e">5</div><div class="n" style="left:463.69px;top:90.49px;color:#42206e">0</div><div class="n" style="left:478.39px;top:90.49px;color:#42206e">2</div><div class="n" style="left:493.08px;top:90.49px;color:#42206e">0</div><div class="n" style="left:507.78px;top:90.49px;color:#42206e">2</div><div class="n" style="left:522.48px;top:90.49px;color:#42206e">0</div><div class="n" style="left:537.17px;top:90.49px;color:#42206e">1</div><div class="n" style="left:551.87px;top:90.49px;color:#42206e">2</div><div class="n" style="left:566.56px;top:90.49px;color:#42206e">0</div><div class="n" style="left:581.26px;top:90.49px;color:#42206e">0</div><div class="n" style="left:595.95px;top:90.49px;color:#42206e">0</div><div class="n" style="left:272.65px;top:105.13px;color:#42206e">0</div><div class="n" style="left:287.35px;top:105.13px;color:#42206e">0</div><div class="n" style="left:302.04px;top:105.13px;color:#42206e">1</div><div class="n" style="left:316.74px;top:105.13px;color:#42206e">0</div><div class="n" style="left:331.43px;top:105.13px;color:#42206e">0</div><div class="n" style="left:346.13px;top:105.13px;color:#42206e">2</div><div class="n" style="left:360.82px;top:105.13px;color:#42206e">3</div><div class="n" style="left:375.52px;top:105.13px;color:#42206e">0</div><div class="n" style="left:390.22px;top:105.13px;color:#42206e">0</div><div class="n" style="left:404.91px;top:105.13px;color:#42206e">0</div><div class="n" style="left:419.61px;top:105.13px;color:#42206e">0</div><div class="n" style="left:434.30px;top:105.13px;color:#42206e">0</div><div class="n" style="left:449.00px;top:105.13px;color:#42206e">4</div><div class="n" style="left:463.69px;top:105.13px;color:#42206e">0</div><div class="n" style="left:478.39px;top:105.13px;color:#42206e">0</div><div class="n" style="left:493.08px;top:105.13px;color:#42206e">0</div><div class="n" style="left:507.78px;top:105.13px;color:#42206e">3</div><div class="n" style="left:522.48px;top:105.13px;color:#42206e">0</div><div class="n" style="left:537.17px;top:105.13px;color:#42206e">0</div><div class="n" style="left:551.87px;top:105.13px;color:#42206e">1</div><div class="n" style="left:566.56px;top:105.13px;color:#42206e">0</div><div class="n" style="left:581.26px;top:105.13px;color:#42206e">0</div><div class="n" style="left:595.95px;top:105.13px;color:#42206e">0</div><div class="n" style="left:272.65px;top:119.77px;color:#42206e">4</div><div class="n" style="left:287.35px;top:119.77px;color:#42206e">1</div><div class="n" style="left:302.04px;top:119.77px;color:#42206e">2</div><div class="n" style="left:316.74px;top:119.77px;color:#42206e">3</div><div class="n" style="left:331.43px;top:119.77px;color:#42206e">0</div><div class="n" style="left:346.13px;top:119.77px;color:#42206e">1</div><div class="n" style="left:360.82px;top:119.77px;color:#42206e">6</div><div class="n" style="left:375.52px;top:119.77px;color:#42206e">0</div><div class="n" style="left:390.22px;top:119.77px;color:#42206e">0</div><div class="n" style="left:404.91px;top:119.77px;color:#42206e">0</div><div class="n" style="left:419.61px;top:119.77px;color:#42206e">4</div><div class="n" style="left:434.30px;top:119.77px;color:#42206e">0</div><div class="n" style="left:449.00px;top:119.77px;color:#dcdbe9">14</div><div class="n" style="left:463.69px;top:119.77px;color:#42206e">1</div><div class="n" style="left:478.39px;top:119.77px;color:#dcdbe9">11</div><div class="n" style="left:493.08px;top:119.77px;color:#42206e">0</div><div class="n" style="left:507.78px;top:119.77px;color:#42206e">4</div><div class="n" style="left:522.48px;top:119.77px;color:#42206e">1</div><div class="n" style="left:537.17px;top:119.77px;color:#42206e">1</div><div class="n" style="left:551.87px;top:119.77px;color:#42206e">4</div><div class="n" style="left:566.56px;top:119.77px;color:#42206e">2</div><div class="n" style="left:581.26px;top:119.77px;color:#42206e">0</div><div class="n" style="left:595.95px;top:119.77px;color:#42206e">2</div><div class="n" style="left:272.65px;top:134.40px;color:#42206e">0</div><div class="n" style="left:287.35px;top:134.40px;color:#42206e">0</div><div class="n" style="left:302.04px;top:134.40px;color:#42206e">1</div><div class="n" style="left:316.74px;top:134.40px;color:#42206e">0</div><div class="n" style="left:331.43px;top:134.40px;color:#42206e">0</div><div class="n" style="left:346.13px;top:134.40px;color:#42206e">1</div><div class="n" style="left:360.82px;top:134.40px;color:#42206e">3</div><div class="n" style="left:375.52px;top:134.40px;color:#42206e">0</div><div class="n" style="left:390.22px;top:134.40px;color:#42206e">0</div><div class="n" style="left:404.91px;top:134.40px;color:#42206e">0</div><div class="n" style="left:419.61px;top:134.40px;color:#42206e">1</div><div class="n" style="left:434.30px;top:134.40px;color:#42206e">0</div><div class="n" style="left:449.00px;top:134.40px;color:#42206e">3</div><div class="n" style="left:463.69px;top:134.40px;color:#42206e">1</div><div class="n" style="left:478.39px;top:134.40px;color:#42206e">3</div><div class="n" style="left:493.08px;top:134.40px;color:#42206e">1</div><div class="n" style="left:507.78px;top:134.40px;color:#42206e">3</div><div class="n" style="left:522.48px;top:134.40px;color:#42206e">0</div><div class="n" style="left:537.17px;top:134.40px;color:#42206e">3</div><div class="n" style="left:551.87px;top:134.40px;color:#42206e">0</div><div class="n" style="left:566.56px;top:134.40px;color:#42206e">0</div><div class="n" style="left:581.26px;top:134.40px;color:#42206e">0</div><div class="n" style="left:595.95px;top:134.40px;color:#42206e">0</div><div class="n" style="left:272.65px;top:149.04px;color:#42206e">0</div><div class="n" style="left:287.35px;top:149.04px;color:#42206e">0</div><div class="n" style="left:302.04px;top:149.04px;color:#42206e">0</div><div class="n" style="left:316.74px;top:149.04px;color:#42206e">0</div><div class="n" style="left:331.43px;top:149.04px;color:#42206e">0</div><div class="n" style="left:346.13px;top:149.04px;color:#42206e">2</div><div class="n" style="left:360.82px;top:149.04px;color:#42206e">1</div><div class="n" style="left:375.52px;top:149.04px;color:#42206e">0</div><div class="n" style="left:390.22px;top:149.04px;color:#42206e">0</div><div class="n" style="left:404.91px;top:149.04px;color:#42206e">0</div><div class="n" style="left:419.61px;top:149.04px;color:#42206e">1</div><div class="n" style="left:434.30px;top:149.04px;color:#42206e">0</div><div class="n" style="left:449.00px;top:149.04px;color:#42206e">3</div><div class="n" style="left:463.69px;top:149.04px;color:#42206e">0</div><div class="n" style="left:478.39px;top:149.04px;color:#42206e">3</div><div class="n" style="left:493.08px;top:149.04px;color:#42206e">0</div><div class="n" style="left:507.78px;top:149.04px;color:#42206e">0</div><div class="n" style="left:522.48px;top:149.04px;color:#42206e">1</div><div class="n" style="left:537.17px;top:149.04px;color:#42206e">0</div><div class="n" style="left:551.87px;top:149.04px;color:#42206e">0</div><div class="n" style="left:566.56px;top:149.04px;color:#42206e">1</div><div class="n" style="left:581.26px;top:149.04px;color:#42206e">0</div><div class="n" style="left:595.95px;top:149.04px;color:#42206e">0</div><div class="n" style="left:272.65px;top:163.68px;color:#42206e">1</div><div class="n" style="left:287.35px;top:163.68px;color:#42206e">0</div><div class="n" style="left:302.04px;top:163.68px;color:#42206e">1</div><div class="n" style="left:316.74px;top:163.68px;color:#42206e">0</div><div class="n" style="left:331.43px;top:163.68px;color:#42206e">0</div><div class="n" style="left:346.13px;top:163.68px;color:#42206e">1</div><div class="n" style="left:360.82px;top:163.68px;color:#42206e">4</div><div class="n" style="left:375.52px;top:163.68px;color:#42206e">0</div><div class="n" style="left:390.22px;top:163.68px;color:#42206e">0</div><div class="n" style="left:404.91px;top:163.68px;color:#42206e">1</div><div class="n" style="left:419.61px;top:163.68px;color:#42206e">0</div><div class="n" style="left:434.30px;top:163.68px;color:#42206e">0</div><div class="n" style="left:449.00px;top:163.68px;color:#42206e">3</div><div class="n" style="left:463.69px;top:163.68px;color:#42206e">1</div><div class="n" style="left:478.39px;top:163.68px;color:#42206e">2</div><div class="n" style="left:493.08px;top:163.68px;color:#42206e">0</div><div class="n" style="left:507.78px;top:163.68px;color:#42206e">0</div><div class="n" style="left:522.48px;top:163.68px;color:#42206e">0</div><div class="n" style="left:537.17px;top:163.68px;color:#42206e">2</div><div class="n" style="left:551.87px;top:163.68px;color:#42206e">3</div><div class="n" style="left:566.56px;top:163.68px;color:#42206e">1</div><div class="n" style="left:581.26px;top:163.68px;color:#42206e">0</div><div class="n" style="left:595.95px;top:163.68px;color:#42206e">0</div><div class="n" style="left:272.65px;top:178.32px;color:#42206e">0</div><div class="n" style="left:287.35px;top:178.32px;color:#42206e">0</div><div class="n" style="left:302.04px;top:178.32px;color:#42206e">0</div><div class="n" style="left:316.74px;top:178.32px;color:#42206e">0</div><div class="n" style="left:331.43px;top:178.32px;color:#42206e">0</div><div class="n" style="left:346.13px;top:178.32px;color:#42206e">2</div><div class="n" style="left:360.82px;top:178.32px;color:#42206e">4</div><div class="n" style="left:375.52px;top:178.32px;color:#42206e">0</div><div class="n" style="left:390.22px;top:178.32px;color:#42206e">0</div><div class="n" style="left:404.91px;top:178.32px;color:#42206e">0</div><div class="n" style="left:419.61px;top:178.32px;color:#42206e">1</div><div class="n" style="left:434.30px;top:178.32px;color:#42206e">0</div><div class="n" style="left:449.00px;top:178.32px;color:#42206e">4</div><div class="n" style="left:463.69px;top:178.32px;color:#42206e">1</div><div class="n" style="left:478.39px;top:178.32px;color:#42206e">4</div><div class="n" style="left:493.08px;top:178.32px;color:#42206e">0</div><div class="n" style="left:507.78px;top:178.32px;color:#42206e">4</div><div class="n" style="left:522.48px;top:178.32px;color:#42206e">1</div><div class="n" style="left:537.17px;top:178.32px;color:#42206e">3</div><div class="n" style="left:551.87px;top:178.32px;color:#42206e">4</div><div class="n" style="left:566.56px;top:178.32px;color:#42206e">0</div><div class="n" style="left:581.26px;top:178.32px;color:#42206e">0</div><div class="n" style="left:595.95px;top:178.32px;color:#42206e">0</div><div class="n" style="left:272.65px;top:192.96px;color:#42206e">2</div><div class="n" style="left:287.35px;top:192.96px;color:#42206e">1</div><div class="n" style="left:302.04px;top:192.96px;color:#42206e">0</div><div class="n" style="left:316.74px;top:192.96px;color:#42206e">0</div><div class="n" style="left:331.43px;top:192.96px;color:#42206e">0</div><div class="n" style="left:346.13px;top:192.96px;color:#42206e">3</div><div class="n" style="left:360.82px;top:192.96px;color:#42206e">2</div><div class="n" style="left:375.52px;top:192.96px;color:#42206e">0</div><div class="n" style="left:390.22px;top:192.96px;color:#42206e">0</div><div class="n" style="left:404.91px;top:192.96px;color:#42206e">0</div><div class="n" style="left:419.61px;top:192.96px;color:#42206e">1</div><div class="n" style="left:434.30px;top:192.96px;color:#42206e">0</div><div class="n" style="left:449.00px;top:192.96px;color:#42206e">4</div><div class="n" style="left:463.69px;top:192.96px;color:#42206e">0</div><div class="n" style="left:478.39px;top:192.96px;color:#42206e">2</div><div class="n" style="left:493.08px;top:192.96px;color:#42206e">0</div><div class="n" style="left:507.78px;top:192.96px;color:#42206e">2</div><div class="n" style="left:522.48px;top:192.96px;color:#42206e">2</div><div class="n" style="left:537.17px;top:192.96px;color:#42206e">1</div><div class="n" style="left:551.87px;top:192.96px;color:#42206e">0</div><div class="n" style="left:566.56px;top:192.96px;color:#42206e">0</div><div class="n" style="left:581.26px;top:192.96px;color:#42206e">0</div><div class="n" style="left:595.95px;top:192.96px;color:#42206e">1</div><div class="n" style="left:272.65px;top:207.60px;color:#42206e">0</div><div class="n" style="left:287.35px;top:207.60px;color:#42206e">0</div><div class="n" style="left:302.04px;top:207.60px;color:#42206e">2</div><div class="n" style="left:316.74px;top:207.60px;color:#42206e">1</div><div class="n" style="left:331.43px;top:207.60px;color:#42206e">0</div><div class="n" style="left:346.13px;top:207.60px;color:#42206e">2</div><div class="n" style="left:360.82px;top:207.60px;color:#42206e">3</div><div class="n" style="left:375.52px;top:207.60px;color:#42206e">0</div><div class="n" style="left:390.22px;top:207.60px;color:#42206e">0</div><div class="n" style="left:404.91px;top:207.60px;color:#42206e">0</div><div class="n" style="left:419.61px;top:207.60px;color:#42206e">1</div><div class="n" style="left:434.30px;top:207.60px;color:#42206e">0</div><div class="n" style="left:449.00px;top:207.60px;color:#42206e">2</div><div class="n" style="left:463.69px;top:207.60px;color:#42206e">0</div><div class="n" style="left:478.39px;top:207.60px;color:#42206e">1</div><div class="n" style="left:493.08px;top:207.60px;color:#42206e">0</div><div class="n" style="left:507.78px;top:207.60px;color:#42206e">4</div><div class="n" style="left:522.48px;top:207.60px;color:#42206e">2</div><div class="n" style="left:537.17px;top:207.60px;color:#42206e">3</div><div class="n" style="left:551.87px;top:207.60px;color:#42206e">0</div><div class="n" style="left:566.56px;top:207.60px;color:#42206e">1</div><div class="n" style="left:581.26px;top:207.60px;color:#42206e">0</div><div class="n" style="left:595.95px;top:207.60px;color:#42206e">1</div><div class="n" style="left:272.65px;top:222.24px;color:#42206e">0</div><div class="n" style="left:287.35px;top:222.24px;color:#42206e">3</div><div class="n" style="left:302.04px;top:222.24px;color:#42206e">1</div><div class="n" style="left:316.74px;top:222.24px;color:#42206e">1</div><div class="n" style="left:331.43px;top:222.24px;color:#42206e">0</div><div class="n" style="left:346.13px;top:222.24px;color:#42206e">3</div><div class="n" style="left:360.82px;top:222.24px;color:#dcdbe9">16</div><div class="n" style="left:375.52px;top:222.24px;color:#42206e">0</div><div class="n" style="left:390.22px;top:222.24px;color:#42206e">0</div><div class="n" style="left:404.91px;top:222.24px;color:#42206e">2</div><div class="n" style="left:419.61px;top:222.24px;color:#42206e">2</div><div class="n" style="left:434.30px;top:222.24px;color:#42206e">0</div><div class="n" style="left:449.00px;top:222.24px;color:#42206e">3</div><div class="n" style="left:463.69px;top:222.24px;color:#42206e">2</div><div class="n" style="left:478.39px;top:222.24px;color:#42206e">4</div><div class="n" style="left:493.08px;top:222.24px;color:#42206e">0</div><div class="n" style="left:507.78px;top:222.24px;color:#42206e">6</div><div class="n" style="left:522.48px;top:222.24px;color:#42206e">1</div><div class="n" style="left:537.17px;top:222.24px;color:#42206e">2</div><div class="n" style="left:551.87px;top:222.24px;color:#42206e">2</div><div class="n" style="left:566.56px;top:222.24px;color:#42206e">1</div><div class="n" style="left:581.26px;top:222.24px;color:#42206e">0</div><div class="n" style="left:595.95px;top:222.24px;color:#42206e">3</div><div class="n" style="left:272.65px;top:236.88px;color:#42206e">1</div><div class="n" style="left:287.35px;top:236.88px;color:#42206e">0</div><div class="n" style="left:302.04px;top:236.88px;color:#42206e">1</div><div class="n" style="left:316.74px;top:236.88px;color:#42206e">0</div><div class="n" style="left:331.43px;top:236.88px;color:#42206e">0</div><div class="n" style="left:346.13px;top:236.88px;color:#42206e">0</div><div class="n" style="left:360.82px;top:236.88px;color:#42206e">1</div><div class="n" style="left:375.52px;top:236.88px;color:#42206e">0</div><div class="n" style="left:390.22px;top:236.88px;color:#42206e">0</div><div class="n" style="left:404.91px;top:236.88px;color:#42206e">0</div><div class="n" style="left:419.61px;top:236.88px;color:#42206e">0</div><div class="n" style="left:434.30px;top:236.88px;color:#42206e">0</div><div class="n" style="left:449.00px;top:236.88px;color:#42206e">4</div><div class="n" style="left:463.69px;top:236.88px;color:#42206e">0</div><div class="n" style="left:478.39px;top:236.88px;color:#42206e">5</div><div class="n" style="left:493.08px;top:236.88px;color:#42206e">0</div><div class="n" style="left:507.78px;top:236.88px;color:#42206e">0</div><div class="n" style="left:522.48px;top:236.88px;color:#42206e">0</div><div class="n" style="left:537.17px;top:236.88px;color:#42206e">0</div><div class="n" style="left:551.87px;top:236.88px;color:#42206e">1</div><div class="n" style="left:566.56px;top:236.88px;color:#42206e">0</div><div class="n" style="left:581.26px;top:236.88px;color:#42206e">0</div><div class="n" style="left:595.95px;top:236.88px;color:#42206e">0</div><div class="n" style="left:272.65px;top:251.52px;color:#42206e">0</div><div class="n" style="left:287.35px;top:251.52px;color:#42206e">3</div><div class="n" style="left:302.04px;top:251.52px;color:#42206e">2</div><div class="n" style="left:316.74px;top:251.52px;color:#42206e">1</div><div class="n" style="left:331.43px;top:251.52px;color:#42206e">0</div><div class="n" style="left:346.13px;top:251.52px;color:#42206e">7</div><div class="n" style="left:360.82px;top:251.52px;color:#dcdbe9">11</div><div class="n" style="left:375.52px;top:251.52px;color:#42206e">0</div><div class="n" style="left:390.22px;top:251.52px;color:#42206e">0</div><div class="n" style="left:404.91px;top:251.52px;color:#42206e">2</div><div class="n" style="left:419.61px;top:251.52px;color:#42206e">2</div><div class="n" style="left:434.30px;top:251.52px;color:#42206e">0</div><div class="n" style="left:449.00px;top:251.52px;color:#dcdbe9">8</div><div class="n" style="left:463.69px;top:251.52px;color:#42206e">0</div><div class="n" style="left:478.39px;top:251.52px;color:#42206e">5</div><div class="n" style="left:493.08px;top:251.52px;color:#42206e">0</div><div class="n" style="left:507.78px;top:251.52px;color:#dcdbe9">8</div><div class="n" style="left:522.48px;top:251.52px;color:#dcdbe9">8</div><div class="n" style="left:537.17px;top:251.52px;color:#42206e">3</div><div class="n" style="left:551.87px;top:251.52px;color:#42206e">5</div><div class="n" style="left:566.56px;top:251.52px;color:#42206e">1</div><div class="n" style="left:581.26px;top:251.52px;color:#42206e">0</div><div class="n" style="left:595.95px;top:251.52px;color:#42206e">4</div><div class="n" style="left:272.65px;top:266.16px;color:#42206e">3</div><div class="n" style="left:287.35px;top:266.16px;color:#42206e">0</div><div class="n" style="left:302.04px;top:266.16px;color:#42206e">0</div><div class="n" style="left:316.74px;top:266.16px;color:#42206e">0</div><div class="n" style="left:331.43px;top:266.16px;color:#42206e">0</div><div class="n" style="left:346.13px;top:266.16px;color:#42206e">5</div><div class="n" style="left:360.82px;top:266.16px;color:#42206e">1</div><div class="n" style="left:375.52px;top:266.16px;color:#42206e">0</div><div class="n" style="left:390.22px;top:266.16px;color:#42206e">0</div><div class="n" style="left:404.91px;top:266.16px;color:#42206e">0</div><div class="n" style="left:419.61px;top:266.16px;color:#42206e">2</div><div class="n" style="left:434.30px;top:266.16px;color:#42206e">0</div><div class="n" style="left:449.00px;top:266.16px;color:#42206e">2</div><div class="n" style="left:463.69px;top:266.16px;color:#42206e">0</div><div class="n" style="left:478.39px;top:266.16px;color:#42206e">2</div><div class="n" style="left:493.08px;top:266.16px;color:#42206e">0</div><div class="n" style="left:507.78px;top:266.16px;color:#42206e">3</div><div class="n" style="left:522.48px;top:266.16px;color:#42206e">0</div><div class="n" style="left:537.17px;top:266.16px;color:#42206e">2</div><div class="n" style="left:551.87px;top:266.16px;color:#42206e">1</div><div class="n" style="left:566.56px;top:266.16px;color:#42206e">0</div><div class="n" style="left:581.26px;top:266.16px;color:#42206e">0</div><div class="n" style="left:595.95px;top:266.16px;color:#42206e">0</div><div class="n" style="left:272.65px;top:280.80px;color:#42206e">2</div><div class="n" style="left:287.35px;top:280.80px;color:#42206e">3</div><div class="n" style="left:302.04px;top:280.80px;color:#42206e">4</div><div class="n" style="left:316.74px;top:280.80px;color:#42206e">4</div><div class="n" style="left:331.43px;top:280.80px;color:#42206e">0</div><div class="n" style="left:346.13px;top:280.80px;color:#42206e">5</div><div class="n" style="left:360.82px;top:280.80px;color:#dcdbe9">11</div><div class="n" style="left:375.52px;top:280.80px;color:#42206e">0</div><div class="n" style="left:390.22px;top:280.80px;color:#42206e">0</div><div class="n" style="left:404.91px;top:280.80px;color:#42206e">2</div><div class="n" style="left:419.61px;top:280.80px;color:#42206e">0</div><div class="n" style="left:434.30px;top:280.80px;color:#42206e">0</div><div class="n" style="left:449.00px;top:280.80px;color:#42206e">5</div><div class="n" style="left:463.69px;top:280.80px;color:#42206e">3</div><div class="n" style="left:478.39px;top:280.80px;color:#dcdbe9">11</div><div class="n" style="left:493.08px;top:280.80px;color:#42206e">1</div><div class="n" style="left:507.78px;top:280.80px;color:#dcdbe9">9</div><div class="n" style="left:522.48px;top:280.80px;color:#42206e">5</div><div class="n" style="left:537.17px;top:280.80px;color:#42206e">0</div><div class="n" style="left:551.87px;top:280.80px;color:#42206e">2</div><div class="n" style="left:566.56px;top:280.80px;color:#42206e">1</div><div class="n" style="left:581.26px;top:280.80px;color:#42206e">0</div><div class="n" style="left:595.95px;top:280.80px;color:#42206e">0</div><div class="n" style="left:272.65px;top:295.43px;color:#42206e">0</div><div class="n" style="left:287.35px;top:295.43px;color:#42206e">0</div><div class="n" style="left:302.04px;top:295.43px;color:#42206e">0</div><div class="n" style="left:316.74px;top:295.43px;color:#42206e">1</div><div class="n" style="left:331.43px;top:295.43px;color:#42206e">0</div><div class="n" style="left:346.13px;top:295.43px;color:#42206e">3</div><div class="n" style="left:360.82px;top:295.43px;color:#42206e">6</div><div class="n" style="left:375.52px;top:295.43px;color:#42206e">0</div><div class="n" style="left:390.22px;top:295.43px;color:#42206e">0</div><div class="n" style="left:404.91px;top:295.43px;color:#42206e">0</div><div class="n" style="left:419.61px;top:295.43px;color:#42206e">1</div><div class="n" style="left:434.30px;top:295.43px;color:#42206e">0</div><div class="n" style="left:449.00px;top:295.43px;color:#42206e">3</div><div class="n" style="left:463.69px;top:295.43px;color:#42206e">0</div><div class="n" style="left:478.39px;top:295.43px;color:#42206e">4</div><div class="n" style="left:493.08px;top:295.43px;color:#42206e">0</div><div class="n" style="left:507.78px;top:295.43px;color:#42206e">5</div><div class="n" style="left:522.48px;top:295.43px;color:#42206e">2</div><div class="n" style="left:537.17px;top:295.43px;color:#42206e">1</div><div class="n" style="left:551.87px;top:295.43px;color:#42206e">2</div><div class="n" style="left:566.56px;top:295.43px;color:#42206e">2</div><div class="n" style="left:581.26px;top:295.43px;color:#42206e">0</div><div class="n" style="left:595.95px;top:295.43px;color:#42206e">0</div><div class="n" style="left:272.65px;top:310.07px;color:#42206e">4</div><div class="n" style="left:287.35px;top:310.07px;color:#42206e">0</div><div class="n" style="left:302.04px;top:310.07px;color:#42206e">1</div><div class="n" style="left:316.74px;top:310.07px;color:#42206e">1</div><div class="n" style="left:331.43px;top:310.07px;color:#42206e">0</div><div class="n" style="left:346.13px;top:310.07px;color:#dcdbe9">9</div><div class="n" style="left:360.82px;top:310.07px;color:#dcdbe9">12</div><div class="n" style="left:375.52px;top:310.07px;color:#42206e">0</div><div class="n" style="left:390.22px;top:310.07px;color:#42206e">0</div><div class="n" style="left:404.91px;top:310.07px;color:#42206e">3</div><div class="n" style="left:419.61px;top:310.07px;color:#42206e">1</div><div class="n" style="left:434.30px;top:310.07px;color:#42206e">0</div><div class="n" style="left:449.00px;top:310.07px;color:#dcdbe9">8</div><div class="n" style="left:463.69px;top:310.07px;color:#42206e">1</div><div class="n" style="left:478.39px;top:310.07px;color:#dcdbe9">8</div><div class="n" style="left:493.08px;top:310.07px;color:#42206e">0</div><div class="n" style="left:507.78px;top:310.07px;color:#42206e">4</div><div class="n" style="left:522.48px;top:310.07px;color:#42206e">1</div><div class="n" style="left:537.17px;top:310.07px;color:#42206e">7</div><div class="n" style="left:551.87px;top:310.07px;color:#42206e">2</div><div class="n" style="left:566.56px;top:310.07px;color:#42206e">0</div><div class="n" style="left:581.26px;top:310.07px;color:#42206e">0</div><div class="n" style="left:595.95px;top:310.07px;color:#42206e">3</div><div class="n" style="left:272.65px;top:324.71px;color:#42206e">0</div><div class="n" style="left:287.35px;top:324.71px;color:#42206e">0</div><div class="n" style="left:302.04px;top:324.71px;color:#42206e">0</div><div class="n" style="left:316.74px;top:324.71px;color:#42206e">0</div><div class="n" style="left:331.43px;top:324.71px;color:#42206e">0</div><div class="n" style="left:346.13px;top:324.71px;color:#42206e">2</div><div class="n" style="left:360.82px;top:324.71px;color:#42206e">3</div><div class="n" style="left:375.52px;top:324.71px;color:#42206e">0</div><div class="n" style="left:390.22px;top:324.71px;color:#42206e">0</div><div class="n" style="left:404.91px;top:324.71px;color:#42206e">0</div><div class="n" style="left:419.61px;top:324.71px;color:#42206e">0</div><div class="n" style="left:434.30px;top:324.71px;color:#42206e">0</div><div class="n" style="left:449.00px;top:324.71px;color:#42206e">2</div><div class="n" style="left:463.69px;top:324.71px;color:#42206e">0</div><div class="n" style="left:478.39px;top:324.71px;color:#42206e">1</div><div class="n" style="left:493.08px;top:324.71px;color:#42206e">0</div><div class="n" style="left:507.78px;top:324.71px;color:#42206e">0</div><div class="n" style="left:522.48px;top:324.71px;color:#42206e">0</div><div class="n" style="left:537.17px;top:324.71px;color:#42206e">0</div><div class="n" style="left:551.87px;top:324.71px;color:#42206e">2</div><div class="n" style="left:566.56px;top:324.71px;color:#42206e">0</div><div class="n" style="left:581.26px;top:324.71px;color:#42206e">0</div><div class="n" style="left:595.95px;top:324.71px;color:#42206e">0</div><div class="n" style="left:272.65px;top:339.35px;color:#42206e">2</div><div class="n" style="left:287.35px;top:339.35px;color:#42206e">1</div><div class="n" style="left:302.04px;top:339.35px;color:#42206e">1</div><div class="n" style="left:316.74px;top:339.35px;color:#42206e">0</div><div class="n" style="left:331.43px;top:339.35px;color:#42206e">0</div><div class="n" style="left:346.13px;top:339.35px;color:#42206e">3</div><div class="n" style="left:360.82px;top:339.35px;color:#42206e">3</div><div class="n" style="left:375.52px;top:339.35px;color:#42206e">0</div><div class="n" style="left:390.22px;top:339.35px;color:#42206e">0</div><div class="n" style="left:404.91px;top:339.35px;color:#42206e">1</div><div class="n" style="left:419.61px;top:339.35px;color:#42206e">0</div><div class="n" style="left:434.30px;top:339.35px;color:#42206e">0</div><div class="n" style="left:449.00px;top:339.35px;color:#42206e">0</div><div class="n" style="left:463.69px;top:339.35px;color:#42206e">0</div><div class="n" style="left:478.39px;top:339.35px;color:#42206e">5</div><div class="n" style="left:493.08px;top:339.35px;color:#42206e">0</div><div class="n" style="left:507.78px;top:339.35px;color:#42206e">4</div><div class="n" style="left:522.48px;top:339.35px;color:#42206e">1</div><div class="n" style="left:537.17px;top:339.35px;color:#42206e">1</div><div class="n" style="left:551.87px;top:339.35px;color:#42206e">0</div><div class="n" style="left:566.56px;top:339.35px;color:#42206e">0</div><div class="n" style="left:581.26px;top:339.35px;color:#42206e">0</div><div class="n" style="left:595.95px;top:339.35px;color:#42206e">2</div><div class="n" style="left:272.65px;top:353.99px;color:#42206e">2</div><div class="n" style="left:287.35px;top:353.99px;color:#42206e">1</div><div class="n" style="left:302.04px;top:353.99px;color:#42206e">1</div><div class="n" style="left:316.74px;top:353.99px;color:#42206e">1</div><div class="n" style="left:331.43px;top:353.99px;color:#42206e">0</div><div class="n" style="left:346.13px;top:353.99px;color:#42206e">1</div><div class="n" style="left:360.82px;top:353.99px;color:#42206e">2</div><div class="n" style="left:375.52px;top:353.99px;color:#42206e">0</div><div class="n" style="left:390.22px;top:353.99px;color:#42206e">0</div><div class="n" style="left:404.91px;top:353.99px;color:#42206e">1</div><div class="n" style="left:419.61px;top:353.99px;color:#42206e">0</div><div class="n" style="left:434.30px;top:353.99px;color:#42206e">0</div><div class="n" style="left:449.00px;top:353.99px;color:#42206e">0</div><div class="n" style="left:463.69px;top:353.99px;color:#42206e">0</div><div class="n" style="left:478.39px;top:353.99px;color:#42206e">5</div><div class="n" style="left:493.08px;top:353.99px;color:#42206e">0</div><div class="n" style="left:507.78px;top:353.99px;color:#42206e">4</div><div class="n" style="left:522.48px;top:353.99px;color:#42206e">0</div><div class="n" style="left:537.17px;top:353.99px;color:#42206e">0</div><div class="n" style="left:551.87px;top:353.99px;color:#42206e">2</div><div class="n" style="left:566.56px;top:353.99px;color:#42206e">0</div><div class="n" style="left:581.26px;top:353.99px;color:#42206e">0</div><div class="n" style="left:595.95px;top:353.99px;color:#42206e">1</div><div class="n" style="left:272.65px;top:368.63px;color:#42206e">4</div><div class="n" style="left:287.35px;top:368.63px;color:#42206e">2</div><div class="n" style="left:302.04px;top:368.63px;color:#42206e">2</div><div class="n" style="left:316.74px;top:368.63px;color:#42206e">1</div><div class="n" style="left:331.43px;top:368.63px;color:#42206e">0</div><div class="n" style="left:346.13px;top:368.63px;color:#dcdbe9">9</div><div class="n" style="left:360.82px;top:368.63px;color:#dcdbe9">10</div><div class="n" style="left:375.52px;top:368.63px;color:#42206e">0</div><div class="n" style="left:390.22px;top:368.63px;color:#42206e">0</div><div class="n" style="left:404.91px;top:368.63px;color:#42206e">0</div><div class="n" style="left:419.61px;top:368.63px;color:#42206e">1</div><div class="n" style="left:434.30px;top:368.63px;color:#42206e">0</div><div class="n" style="left:449.00px;top:368.63px;color:#42206e">7</div><div class="n" style="left:463.69px;top:368.63px;color:#42206e">0</div><div class="n" style="left:478.39px;top:368.63px;color:#42206e">7</div><div class="n" style="left:493.08px;top:368.63px;color:#42206e">0</div><div class="n" style="left:507.78px;top:368.63px;color:#42206e">1</div><div class="n" style="left:522.48px;top:368.63px;color:#42206e">2</div><div class="n" style="left:537.17px;top:368.63px;color:#42206e">4</div><div class="n" style="left:551.87px;top:368.63px;color:#42206e">1</div><div class="n" style="left:566.56px;top:368.63px;color:#42206e">1</div><div class="n" style="left:581.26px;top:368.63px;color:#42206e">0</div><div class="n" style="left:595.95px;top:368.63px;color:#42206e">2</div>
<div class="a" style="box-sizing:border-box;left:272.05px;top:43.85px;width:339.20px;height:337.90px;border:1.2px solid #6a6a6a;"></div>
<div class="tk" style="left:269.45px;top:51.37px;width:3.2px;height:0.8px"></div>
<div class="yl" style="top:47.54px;transform:scaleX(0.9699);transform-origin:100% 50%">Acne and Rosacea Photos</div>
<div class="tk" style="left:269.45px;top:66.01px;width:3.2px;height:0.8px"></div>
<div class="yl" style="top:62.20px;transform:scaleX(0.9988);transform-origin:100% 50%">Actinic Keratosis Basal Cell Carcinoma and other Malignant Lesions</div>
<div class="tk" style="left:269.45px;top:80.65px;width:3.2px;height:0.8px"></div>
<div class="yl" style="top:76.86px;transform:scaleX(1.0054);transform-origin:100% 50%">Atopic Dermatitis Photos</div>
<div class="tk" style="left:269.45px;top:95.29px;width:3.2px;height:0.8px"></div>
<div class="yl" style="top:91.53px;transform:scaleX(0.983);transform-origin:100% 50%">Bullous Disease Photos</div>
<div class="tk" style="left:269.45px;top:109.93px;width:3.2px;height:0.8px"></div>
<div class="yl" style="top:106.19px;transform:scaleX(1.0294);transform-origin:100% 50%">Cellulitis Impetigo and other Bacterial Infections</div>
<div class="tk" style="left:269.45px;top:124.57px;width:3.2px;height:0.8px"></div>
<div class="yl" style="top:120.85px;transform:scaleX(0.9793);transform-origin:100% 50%">Eczema Photos</div>
<div class="tk" style="left:269.45px;top:139.20px;width:3.2px;height:0.8px"></div>
<div class="yl" style="top:135.51px;transform:scaleX(1.0155);transform-origin:100% 50%">Exanthems and Drug Eruptions</div>
<div class="tk" style="left:269.45px;top:153.84px;width:3.2px;height:0.8px"></div>
<div class="yl" style="top:150.17px;transform:scaleX(0.9979);transform-origin:100% 50%">Hair Loss Photos Alopecia and other Hair Diseases</div>
<div class="tk" style="left:269.45px;top:168.48px;width:3.2px;height:0.8px"></div>
<div class="yl" style="top:164.83px;transform:scaleX(0.9735);transform-origin:100% 50%">Herpes HPV and other STDs Photos</div>
<div class="tk" style="left:269.45px;top:183.12px;width:3.2px;height:0.8px"></div>
<div class="yl" style="top:179.50px;transform:scaleX(1.0106);transform-origin:100% 50%">Light Diseases and Disorders of Pigmentation</div>
<div class="tk" style="left:269.45px;top:197.76px;width:3.2px;height:0.8px"></div>
<div class="yl" style="top:194.16px;transform:scaleX(0.9988);transform-origin:100% 50%">Lupus and other Connective Tissue diseases</div>
<div class="tk" style="left:269.45px;top:212.40px;width:3.2px;height:0.8px"></div>
<div class="yl" style="top:208.82px;transform:scaleX(0.9966);transform-origin:100% 50%">Melanoma Skin Cancer Nevi and Moles</div>
<div class="tk" style="left:269.45px;top:227.04px;width:3.2px;height:0.8px"></div>
<div class="yl" style="top:223.48px;transform:scaleX(1.0008);transform-origin:100% 50%">Nail Fungus and other Nail Disease</div>
<div class="tk" style="left:269.45px;top:241.68px;width:3.2px;height:0.8px"></div>
<div class="yl" style="top:238.14px;transform:scaleX(1.0125);transform-origin:100% 50%">Poison Ivy Photos and other Contact Dermatitis</div>
<div class="tk" style="left:269.45px;top:256.32px;width:3.2px;height:0.8px"></div>
<div class="yl" style="top:252.81px;transform:scaleX(0.9975);transform-origin:100% 50%">Psoriasis pictures Lichen Planus and related diseases</div>
<div class="tk" style="left:269.45px;top:270.96px;width:3.2px;height:0.8px"></div>
<div class="yl" style="top:267.47px;transform:scaleX(1.0053);transform-origin:100% 50%">Scabies Lyme Disease and other Infestations and Bites</div>
<div class="tk" style="left:269.45px;top:285.60px;width:3.2px;height:0.8px"></div>
<div class="yl" style="top:282.13px;transform:scaleX(0.9944);transform-origin:100% 50%">Seborrheic Keratoses and other Benign Tumors</div>
<div class="tk" style="left:269.45px;top:300.23px;width:3.2px;height:0.8px"></div>
<div class="yl" style="top:296.79px;transform:scaleX(0.997);transform-origin:100% 50%">Systemic Disease</div>
<div class="tk" style="left:269.45px;top:314.87px;width:3.2px;height:0.8px"></div>
<div class="yl" style="top:311.45px;transform:scaleX(1.0057);transform-origin:100% 50%">Tinea Ringworm Candidiasis and other Fungal Infections</div>
<div class="tk" style="left:269.45px;top:329.51px;width:3.2px;height:0.8px"></div>
<div class="yl" style="top:326.11px;transform:scaleX(1.0278);transform-origin:100% 50%">Urticaria Hives</div>
<div class="tk" style="left:269.45px;top:344.15px;width:3.2px;height:0.8px"></div>
<div class="yl" style="top:340.78px;transform:scaleX(0.9856);transform-origin:100% 50%">Vascular Tumors</div>
<div class="tk" style="left:269.45px;top:358.79px;width:3.2px;height:0.8px"></div>
<div class="yl" style="top:355.44px;transform:scaleX(0.9858);transform-origin:100% 50%">Vasculitis Photos</div>
<div class="tk" style="left:269.45px;top:373.43px;width:3.2px;height:0.8px"></div>
<div class="yl" style="top:370.10px;transform:scaleX(1.0169);transform-origin:100% 50%">Warts Molluscum and other Viral Infections</div>
<div class="tk" style="left:279.60px;top:381.15px;width:0.8px;height:3.2px"></div>
<div class="xl" style="left:80.00px;top:385.37px;color:#000;-webkit-text-stroke:0.3px #000;transform:scaleX(0.9699)">Acne and Rosacea Photos</div>
<div class="tk" style="left:294.29px;top:381.15px;width:0.8px;height:3.2px"></div>
<div class="xl" style="left:94.69px;top:385.37px;color:#000;-webkit-text-stroke:0.3px #000;transform:scaleX(0.9988)">Actinic Keratosis Basal Cell Carcinoma and other Malignant Lesions</div>
<div class="tk" style="left:308.99px;top:381.15px;width:0.8px;height:3.2px"></div>
<div class="xl" style="left:109.39px;top:385.37px;color:#000;-webkit-text-stroke:0.3px #000;transform:scaleX(1.0054)">Atopic Dermatitis Photos</div>
<div class="tk" style="left:323.68px;top:381.15px;width:0.8px;height:3.2px"></div>
<div class="xl" style="left:124.08px;top:385.37px;color:#000;-webkit-text-stroke:0.3px #000;transform:scaleX(0.983)">Bullous Disease Photos</div>
<div class="tk" style="left:338.38px;top:381.15px;width:0.8px;height:3.2px"></div>
<div class="xl" style="left:138.78px;top:385.37px;color:#000;-webkit-text-stroke:0.3px #000;transform:scaleX(1.0294)">Cellulitis Impetigo and other Bacterial Infections</div>
<div class="tk" style="left:353.08px;top:381.15px;width:0.8px;height:3.2px"></div>
<div class="xl" style="left:153.48px;top:385.37px;color:#000;-webkit-text-stroke:0.3px #000;transform:scaleX(0.9793)">Eczema Photos</div>
<div class="tk" style="left:367.77px;top:381.15px;width:0.8px;height:3.2px"></div>
<div class="xl" style="left:168.17px;top:385.37px;color:#000;-webkit-text-stroke:0.3px #000;transform:scaleX(1.0155)">Exanthems and Drug Eruptions</div>
<div class="tk" style="left:382.47px;top:381.15px;width:0.8px;height:3.2px"></div>
<div class="xl" style="left:182.87px;top:385.37px;color:#000;-webkit-text-stroke:0.3px #000;transform:scaleX(0.9979)">Hair Loss Photos Alopecia and other Hair Diseases</div>
<div class="tk" style="left:397.16px;top:381.15px;width:0.8px;height:3.2px"></div>
<div class="xl" style="left:197.56px;top:385.37px;color:#000;-webkit-text-stroke:0.3px #000;transform:scaleX(0.9735)">Herpes HPV and other STDs Photos</div>
<div class="tk" style="left:411.86px;top:381.15px;width:0.8px;height:3.2px"></div>
<div class="xl" style="left:212.26px;top:385.37px;color:#000;-webkit-text-stroke:0.3px #000;transform:scaleX(1.0106)">Light Diseases and Disorders of Pigmentation</div>
<div class="tk" style="left:426.55px;top:381.15px;width:0.8px;height:3.2px"></div>
<div class="xl" style="left:226.95px;top:385.37px;color:#000;-webkit-text-stroke:0.3px #000;transform:scaleX(0.9988)">Lupus and other Connective Tissue diseases</div>
<div class="tk" style="left:441.25px;top:381.15px;width:0.8px;height:3.2px"></div>
<div class="xl" style="left:241.65px;top:385.37px;color:#000;-webkit-text-stroke:0.3px #000;transform:scaleX(0.9966)">Melanoma Skin Cancer Nevi and Moles</div>
<div class="tk" style="left:455.95px;top:381.15px;width:0.8px;height:3.2px"></div>
<div class="xl" style="left:256.35px;top:385.37px;color:#000;-webkit-text-stroke:0.3px #000;transform:scaleX(1.0008)">Nail Fungus and other Nail Disease</div>
<div class="tk" style="left:470.64px;top:381.15px;width:0.8px;height:3.2px"></div>
<div class="xl" style="left:271.04px;top:385.37px;color:#000;-webkit-text-stroke:0.3px #000;transform:scaleX(1.0125)">Poison Ivy Photos and other Contact Dermatitis</div>
<div class="tk" style="left:485.34px;top:381.15px;width:0.8px;height:3.2px"></div>
<div class="xl" style="left:285.74px;top:385.37px;color:#000;-webkit-text-stroke:0.3px #000;transform:scaleX(0.9975)">Psoriasis pictures Lichen Planus and related diseases</div>
<div class="tk" style="left:500.03px;top:381.15px;width:0.8px;height:3.2px"></div>
<div class="xl" style="left:300.43px;top:385.37px;color:#000;-webkit-text-stroke:0.3px #000;transform:scaleX(1.0053)">Scabies Lyme Disease and other Infestations and Bites</div>
<div class="tk" style="left:514.73px;top:381.15px;width:0.8px;height:3.2px"></div>
<div class="xl" style="left:315.13px;top:385.37px;color:#000;-webkit-text-stroke:0.3px #000;transform:scaleX(0.9944)">Seborrheic Keratoses and other Benign Tumors</div>
<div class="tk" style="left:529.42px;top:381.15px;width:0.8px;height:3.2px"></div>
<div class="xl" style="left:329.82px;top:385.37px;color:#000;-webkit-text-stroke:0.3px #000;transform:scaleX(0.997)">Systemic Disease</div>
<div class="tk" style="left:544.12px;top:381.15px;width:0.8px;height:3.2px"></div>
<div class="xl" style="left:344.52px;top:385.37px;color:#000;-webkit-text-stroke:0.3px #000;transform:scaleX(1.0057)">Tinea Ringworm Candidiasis and other Fungal Infections</div>
<div class="tk" style="left:558.82px;top:381.15px;width:0.8px;height:3.2px"></div>
<div class="xl" style="left:359.22px;top:385.37px;color:#000;-webkit-text-stroke:0.3px #000;transform:scaleX(1.0278)">Urticaria Hives</div>
<div class="tk" style="left:573.51px;top:381.15px;width:0.8px;height:3.2px"></div>
<div class="xl" style="left:373.91px;top:385.37px;color:#000;-webkit-text-stroke:0.3px #000;transform:scaleX(0.9856)">Vascular Tumors</div>
<div class="tk" style="left:588.21px;top:381.15px;width:0.8px;height:3.2px"></div>
<div class="xl" style="left:388.61px;top:385.37px;color:#000;-webkit-text-stroke:0.3px #000;transform:scaleX(0.9858)">Vasculitis Photos</div>
<div class="tk" style="left:602.90px;top:381.15px;width:0.8px;height:3.2px"></div>
<div class="xl" style="left:403.30px;top:385.37px;color:#000;-webkit-text-stroke:0.3px #000;transform:scaleX(1.0169)">Warts Molluscum and other Viral Infections</div>
<div class="a" style="left:391.4px;width:100px;text-align:center;top:397.1px;font-size:8.44px;line-height:8.44px;">Predicted label</div>
<div class="a" style="left:-45.0px;width:100px;text-align:center;top:208.8px;font-size:8.44px;line-height:8.44px;transform:rotate(-90deg);transform-origin:50% 50%;">True label</div>
<div class="a" style="box-sizing:border-box;left:631.40px;top:2.90px;width:22.00px;height:419.90px;background:linear-gradient(to bottom,#42206e 0.0%,#4f2f86 12.5%,#61589a 25.0%,#7677ad 37.5%,#8f90ba 50.0%,#aeb0d0 62.5%,#cdd0e0 75.0%,#e5e4ee 87.5%,#f9f9fb 100.0%);border:1.2px solid #6a6a6a;z-index:5"></div>
<div class="tk" style="left:653.20px;top:421.80px;width:3px;height:0.8px;z-index:6"></div>
<div class="a" style="left:658.8px;top:417.77px;font-size:8.44px;line-height:8.44px;z-index:6">0</div>
<div class="tk" style="left:653.20px;top:369.46px;width:3px;height:0.8px;z-index:6"></div>
<div class="a" style="left:658.8px;top:365.43px;font-size:8.44px;line-height:8.44px;z-index:6">2</div>
<div class="tk" style="left:653.20px;top:317.12px;width:3px;height:0.8px;z-index:6"></div>
<div class="a" style="left:658.8px;top:313.09px;font-size:8.44px;line-height:8.44px;z-index:6">4</div>
<div class="tk" style="left:653.20px;top:264.79px;width:3px;height:0.8px;z-index:6"></div>
<div class="a" style="left:658.8px;top:260.76px;font-size:8.44px;line-height:8.44px;z-index:6">6</div>
<div class="tk" style="left:653.20px;top:212.45px;width:3px;height:0.8px;z-index:6"></div>
<div class="a" style="left:658.8px;top:208.42px;font-size:8.44px;line-height:8.44px;z-index:6">8</div>
<div class="tk" style="left:653.20px;top:160.11px;width:3px;height:0.8px;z-index:6"></div>
<div class="a" style="left:658.8px;top:156.08px;font-size:8.44px;line-height:8.44px;z-index:6">10</div>
<div class="tk" style="left:653.20px;top:107.78px;width:3px;height:0.8px;z-index:6"></div>
<div class="a" style="left:658.8px;top:103.75px;font-size:8.44px;line-height:8.44px;z-index:6">12</div>
<div class="tk" style="left:653.20px;top:55.44px;width:3px;height:0.8px;z-index:6"></div>
<div class="a" style="left:658.8px;top:51.41px;font-size:8.44px;line-height:8.44px;z-index:6">14</div>
<div class="tk" style="left:653.20px;top:3.10px;width:3px;height:0.8px;z-index:6"></div>
<div class="a" style="left:658.8px;top:-0.93px;font-size:8.44px;line-height:8.44px;z-index:6">16</div>
</body></html>
